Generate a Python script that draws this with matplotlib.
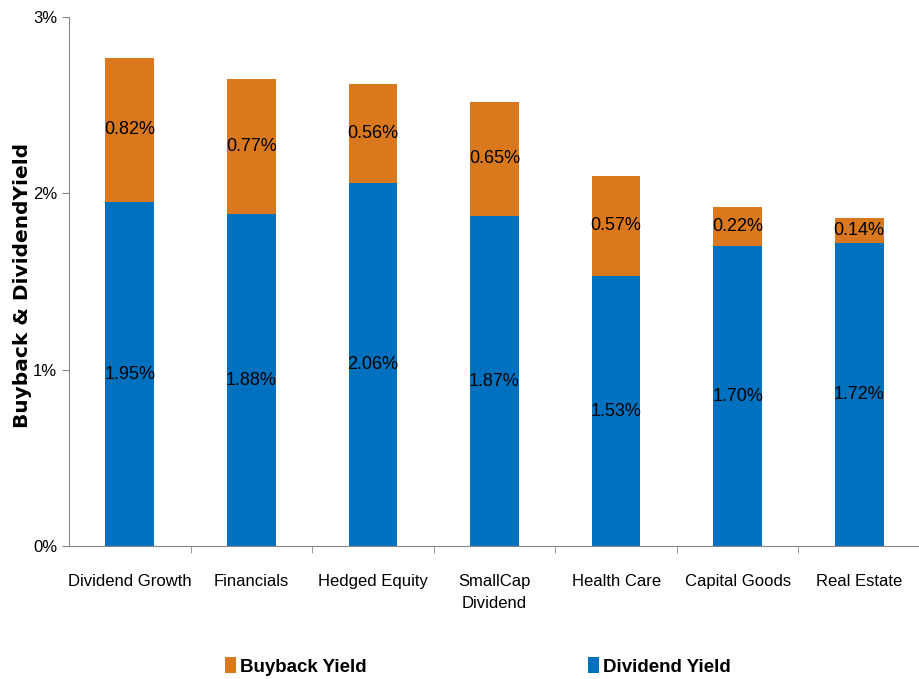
import numpy as np
import matplotlib
matplotlib.use("Agg")
import matplotlib.pyplot as plt
from matplotlib.ticker import FuncFormatter

categories = ["Dividend Growth", "Financials", "Hedged Equity", "SmallCap\nDividend",
              "Health Care", "Capital Goods", "Real Estate"]
dividend = [1.95, 1.88, 2.06, 1.87, 1.53, 1.70, 1.72]
buyback = [0.82, 0.77, 0.56, 0.65, 0.57, 0.22, 0.14]

orange = "#D9781D"
blue = "#0071BF"

plt.rcParams['font.family'] = ['Liberation Sans', 'DejaVu Sans']

fig = plt.figure(figsize=(9.2, 6.79), dpi=100)
ax = fig.add_axes([0.075, 0.196, 0.925, 0.779])

x = np.arange(len(categories))
b1 = ax.bar(x, dividend, width=0.4, color=blue, label="Dividend Yield")
b2 = ax.bar(x, buyback, width=0.4, bottom=dividend, color=orange, label="Buyback Yield")

for i in range(len(x)):
    ax.text(x[i], dividend[i] / 2, f"{dividend[i]:.2f}%", ha="center", va="center",
            fontsize=13, color="black")
    ax.text(x[i], dividend[i] + buyback[i] / 2, f"{buyback[i]:.2f}%", ha="center",
            va="center", fontsize=13, color="black")

ax.set_xlim(-0.5, len(x) - 0.5)
ax.set_ylim(0, 3)
ax.set_yticks([0, 1, 2, 3])
ax.yaxis.set_major_formatter(FuncFormatter(lambda v, p: f"{v:.0f}%"))
ax.set_xticks(x)
ax.set_xticklabels(categories, fontsize=12, linespacing=1.6)
ax.set_xticks(np.arange(0.5, len(x) - 0.5, 1), minor=True)
ax.tick_params(axis="x", which="major", length=0, pad=20)
ax.tick_params(axis="x", which="minor", length=5, color="#888888")
ax.tick_params(axis="y", labelsize=12, color="#888888", length=5)
for s in ["top", "right"]:
    ax.spines[s].set_visible(False)
for s in ["left", "bottom"]:
    ax.spines[s].set_color("#888888")

fig.text(0.024, 0.58, "Buyback & DividendYield", rotation=90, ha="center", va="center",
         fontsize=14.5, fontweight="bold", family="DejaVu Sans")

fig.legend(handles=[b2, b1], labels=["Buyback Yield", "Dividend Yield"], loc="lower center",
           bbox_to_anchor=(0.519, -0.02), ncol=2, frameon=False, columnspacing=11.8,
           handlelength=0.6, handleheight=0.9, handletextpad=0.2,
           prop={"weight": "bold", "size": 13.5})

fig.savefig("out.png", dpi=100)
